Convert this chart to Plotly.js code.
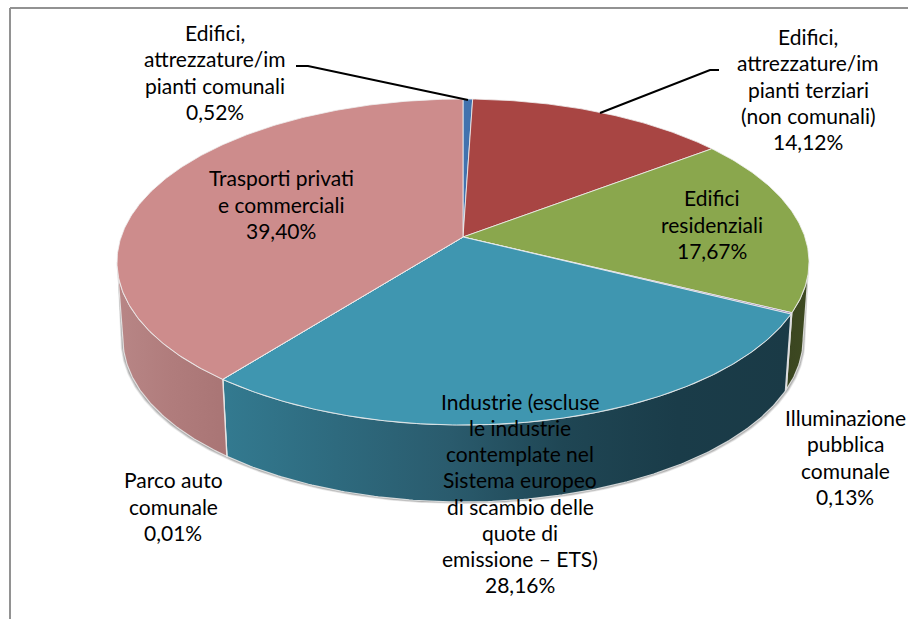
<!DOCTYPE html>
<html><head><meta charset="utf-8">
<script src="https://cdn.plot.ly/plotly-3.0.1.min.js"></script>
<style>html,body{margin:0;padding:0;background:#fff}</style></head>
<body><div id="chart" style="width:908px;height:619px"></div>
<script>
const categories = ["Edifici,<br>attrezzature/im<br>pianti comunali","Edifici,<br>attrezzature/im<br>pianti terziari<br>(non comunali)","Edifici<br>residenziali","Illuminazione<br>pubblica<br>comunale","Industrie (escluse<br>le industrie<br>contemplate nel<br>Sistema europeo<br>di scambio delle<br>quote di<br>emissione – ETS)","Parco auto<br>comunale","Trasporti privati<br>e commerciali"];
const values = [0.52,14.12,17.67,0.13,28.16,0.01,39.40];
const topColors = ["#4272ae","#a84543","#8aa74d","#7d60a0","#3f96b0","#e89a50","#cd8c8c"];
const wallStops = [
  ["#2c4f78","#2c4f78"],["#6e2c2b","#6e2c2b"],["#3a4520","#3e4a22"],["#4c3a62","#4c3a62"],
  ["#337a90","#2e6a7e","#2a5b6d","#1f4654","#1a3c49","#1a3a46"],["#a06a30","#a06a30"],["#b88686","#b07c7c","#a97575"]
];
const labelX = [215,808,712,845,520,173,281];
const labelY = [72,89,224,457,493,506,204];
const lineStep = 26.1;
const leaders = [{x:[296,308,468],y:[66,66,100]},{x:[600,710,719],y:[113,70,70]}];

const cx=463, cy=262, ry=163, rx=346, apexOff=25;
const c=apexOff/ry, d=rx*Math.sqrt(1-c*c);
const wallDy=77, wallScale=0.983;
function rim(t){const u=Math.sin(t),v=Math.cos(t),k=1+c*v;return [d*u/k,(ry*v+apexOff)/k];}
function upperPt(t){const p=rim(t);return [cx+p[0],cy-p[1]];}
function lowerPt(t){const p=rim(t);return [cx+wallScale*p[0],cy-p[1]+wallDy];}
function arc(fn,a,b){const n=Math.max(2,Math.ceil(Math.abs(b-a)/0.01));const o=[];for(let i=0;i<=n;i++)o.push(fn(a+(b-a)*i/n));return o;}
const total=values.reduce((s,v)=>s+v,0);
let acc=0; const edges=[0];
values.forEach(v=>{acc+=v;edges.push(acc/total*2*Math.PI);});
const wallFrom=Math.acos(-c), wallTo=2*Math.PI-wallFrom;
const traces=[];
function poly(pts,extra){traces.push(Object.assign({type:"scatter",mode:"lines",x:pts.map(p=>p[0]),y:pts.map(p=>p[1]),fill:"toself",hoverinfo:"skip",showlegend:false},extra));}
[[4,0.10],[3,0.14],[2,0.18],[1,0.22]].forEach(([o,a])=>{
  const sh=arc(t=>{const p=lowerPt(t);return [p[0]+(p[0]>cx?o*0.6:-o*0.6),p[1]+o*0.5];},wallFrom,wallTo);
  const up=arc(upperPt,wallTo,wallFrom);
  poly(sh.concat(up),{line:{width:0},fillcolor:"rgba(60,60,60,"+a+")"});
});
values.forEach((v,i)=>{
  const a=Math.max(edges[i],wallFrom), b=Math.min(edges[i+1],wallTo);
  if(b<=a) return;
  const pts=arc(upperPt,a,b).concat(arc(lowerPt,b,a));pts.push(pts[0]);
  const st=wallStops[i];
  const grad={type:"horizontal",colorscale:st.map((col,j)=>[j/(st.length-1),col])};
  poly(pts,{fillcolor:st[0],fillgradient:grad,line:{color:"rgba(235,235,235,0.85)",width:1.2}});
});
values.forEach((v,i)=>{
  const ap=[cx,cy-apexOff];
  const pts=[ap].concat(arc(upperPt,edges[i],edges[i+1]));pts.push(ap);
  poly(pts,{fillcolor:topColors[i],line:{color:"rgba(240,240,240,0.8)",width:1}});
});
leaders.forEach(l=>traces.push({type:"scatter",mode:"lines",x:l.x,y:l.y,line:{color:"#000",width:2},hoverinfo:"skip",showlegend:false}));
const annotations=[];
categories.forEach((n,i)=>{
  const lines=n.split("<br>").concat(values[i].toFixed(2).replace(".",",")+"%");
  lines.forEach((txt,j)=>annotations.push({x:labelX[i],y:labelY[i]+(j-(lines.length-1)/2)*lineStep,xref:"x",yref:"y",xanchor:"center",yanchor:"middle",align:"center",showarrow:false,
    text:txt,font:{family:"Lato, sans-serif",size:21,color:"#000"}}));
});
const layout={width:908,height:619,margin:{l:0,r:0,t:0,b:0},paper_bgcolor:"#fff",plot_bgcolor:"#fff",showlegend:false,
  xaxis:{range:[0,908],visible:false,fixedrange:true},yaxis:{range:[619,0],visible:false,fixedrange:true},annotations,
  shapes:[{type:"line",xref:"x",yref:"y",x0:10,x1:10,y0:8,y1:619,line:{color:"#929292",width:2}},
          {type:"line",xref:"x",yref:"y",x0:10,x1:908,y0:8,y1:8,line:{color:"#929292",width:2}}]};
Plotly.newPlot("chart",traces,layout,{displayModeBar:false,staticPlot:true});
</script></body></html>
